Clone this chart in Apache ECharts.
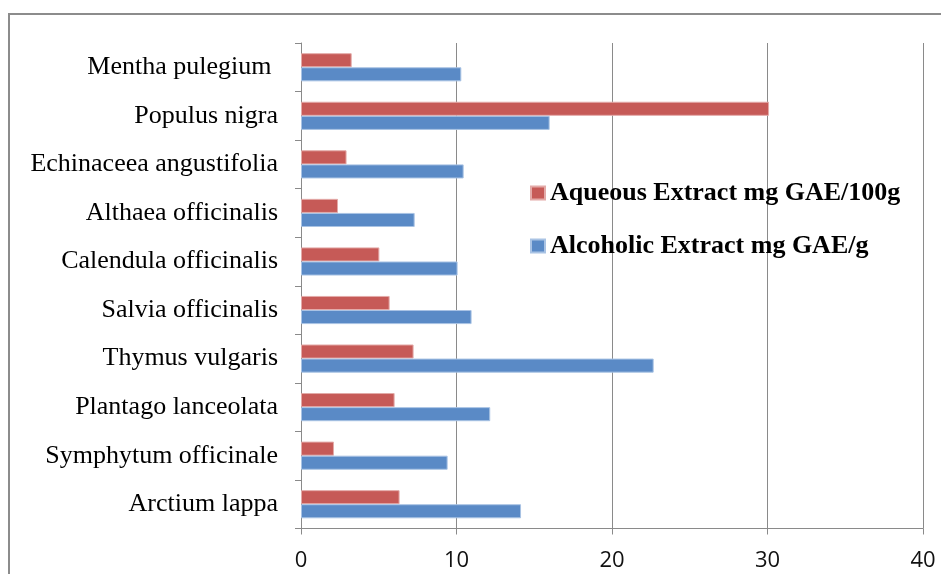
<!DOCTYPE html>
<html>
<head>
<meta charset="utf-8">
<script src="https://cdn.jsdelivr.net/npm/echarts@6/dist/echarts.min.js"></script>
<style>
html,body{margin:0;padding:0;background:#fff;}
#chart{width:941px;height:574px;}
</style>
</head>
<body>
<div id="chart"></div>
<script>
var categories = ["Arctium lappa", "Symphytum officinale", "Plantago lanceolata", "Thymus vulgaris", "Salvia officinalis", "Calendula officinalis", "Althaea officinalis", "Echinaceea angustifolia", "Populus nigra", "Mentha pulegium "];
var aqueous = [6.34, 2.12, 6.02, 7.24, 5.70, 5.04, 2.38, 2.93, 30.1, 3.26];
var alcoholic = [14.15, 9.43, 12.17, 22.68, 10.97, 10.07, 7.31, 10.46, 15.99, 10.31];
var seriesNames = ["Aqueous Extract mg GAE/100g", "Alcoholic Extract mg GAE/g"];
var xTicks = [0, 10, 20, 30, 40];

var chart = echarts.init(document.getElementById('chart'), null, {renderer: 'canvas'});
var axisGray = '#8a8a8a';
chart.setOption({
  animation: false,
  backgroundColor: '#fff',
  graphic: [{
    type: 'rect', z: -10,
    shape: {x: 9, y: 14, width: 1000, height: 1000},
    style: {fill: 'none', stroke: '#8c8c8c', lineWidth: 2}
  }],
  grid: {left: 301, right: 18, top: 43, bottom: 45.5, containLabel: false},
  legend: {
    orient: 'vertical',
    left: 525, top: 175,
    itemWidth: 14, itemHeight: 13, itemGap: 27,
    icon: 'rect',
    data: seriesNames,
    textStyle: {fontFamily: 'Liberation Serif', fontWeight: 'bold', fontSize: 26, color: '#000', lineHeight: 26}
  },
  xAxis: {
    type: 'value', min: xTicks[0], max: xTicks[xTicks.length - 1], interval: 10,
    axisLine: {show: true, lineStyle: {color: axisGray, width: 1}},
    axisTick: {show: true, length: 6, lineStyle: {color: axisGray}},
    splitLine: {show: true, lineStyle: {color: axisGray, width: 1}},
    axisLabel: {margin: 21, fontFamily: 'Open Sans', fontSize: 22, color: '#111'}
  },
  yAxis: {
    type: 'category', data: categories,
    axisLine: {show: true, lineStyle: {color: axisGray, width: 1}},
    axisTick: {show: true, length: 6, lineStyle: {color: axisGray}},
    axisLabel: {margin: 23, fontFamily: 'Liberation Serif', fontSize: 26, color: '#000'}
  },
  series: [
    {
      name: seriesNames[0], type: 'bar', data: aqueous,
      barGap: '0%', barCategoryGap: '42%',
      itemStyle: {color: '#C65A57', borderColor: '#e3aaa8', borderWidth: 1}
    },
    {
      name: seriesNames[1], type: 'bar', data: alcoholic,
      barGap: '0%', barCategoryGap: '42%',
      itemStyle: {color: '#5A8AC6', borderColor: '#a9c3e4', borderWidth: 1}
    }
  ]
});
</script>
</body>
</html>
